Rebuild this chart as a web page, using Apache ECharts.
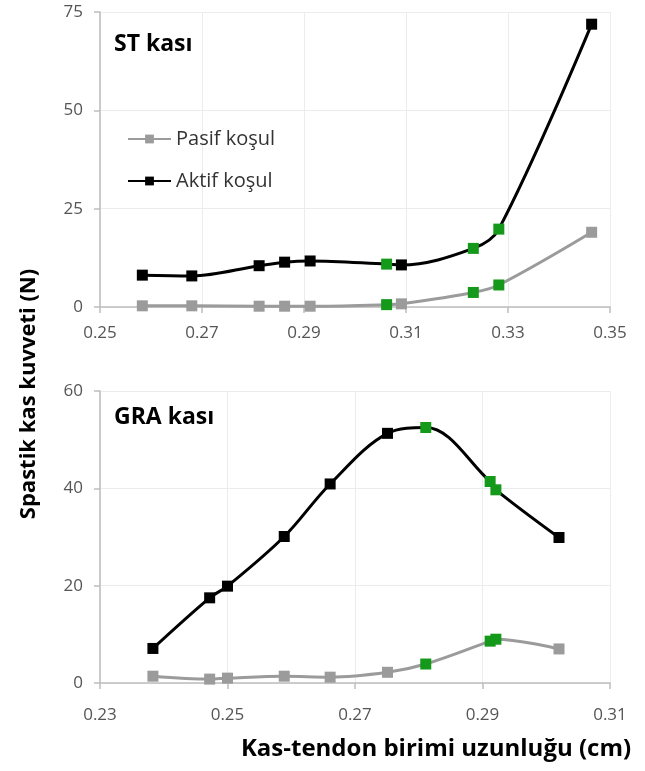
<!DOCTYPE html>
<html>
<head>
<meta charset="utf-8">
<script src="https://cdn.jsdelivr.net/npm/echarts@6/dist/echarts.min.js"></script>
<style>html,body{margin:0;padding:0;background:#fff;}#c{width:645px;height:771px;}</style>
</head>
<body>
<div id="c"></div>
<script>
// ST kası
const stX = [0.2583, 0.268, 0.2812, 0.2862, 0.2912, 0.3062, 0.3091, 0.3232, 0.3282, 0.3464];
const stPasif = [0.3, 0.3, 0.2, 0.2, 0.2, 0.6, 0.8, 3.7, 5.6, 19.0];
const stAktif = [8.1, 7.9, 10.5, 11.4, 11.7, 10.9, 10.7, 14.9, 19.8, 71.9];
const stGreen = [5, 7, 8];
const stXTicks = [0.25, 0.27, 0.29, 0.31, 0.33, 0.35];
const stYTicks = [0, 25, 50, 75];
// GRA kası
const graX = [0.2383, 0.2472, 0.2500, 0.2589, 0.2661, 0.2751, 0.2811, 0.2912, 0.2921, 0.3020];
const graPasif = [1.4, 0.8, 1.0, 1.4, 1.2, 2.2, 3.9, 8.6, 9.0, 7.0];
const graAktif = [7.1, 17.5, 19.9, 30.1, 40.9, 51.3, 52.5, 41.4, 39.7, 29.9];
const graGreen = [6, 7, 8];
const graXTicks = [0.23, 0.25, 0.27, 0.29, 0.31];
const graYTicks = [0, 20, 40, 60];

const seriesNames = ['Pasif koşul', 'Aktif koşul'];
const GREEN = '#14991a', GRAY = '#9b9b9b', BLACK = '#000000';
const FONT = 'Open Sans';

function pts(xs, ys, greens) {
  return xs.map((x, i) => greens.includes(i)
    ? { value: [x, ys[i]], itemStyle: { color: GREEN } }
    : [x, ys[i]]);
}
function xAxis(ticks, gi, margin) {
  return {
    type: 'value', gridIndex: gi, min: ticks[0], max: ticks[ticks.length - 1],
    interval: +(ticks[1] - ticks[0]).toFixed(4),
    axisLine: { lineStyle: { color: '#bdbdbd', width: 1.5 } },
    axisTick: { show: true, length: 6, lineStyle: { color: '#bdbdbd', width: 1.5 } },
    splitLine: { show: true, lineStyle: { color: '#ececec', width: 1 } },
    axisLabel: { margin: margin, fontFamily: FONT, fontSize: 17, color: '#555',
      formatter: v => v.toFixed(2) }
  };
}
function yAxis(ticks, gi) {
  return {
    type: 'value', gridIndex: gi, min: ticks[0], max: ticks[ticks.length - 1],
    interval: ticks[1] - ticks[0],
    axisLine: { show: true, lineStyle: { color: '#bdbdbd', width: 1.5 } },
    axisTick: { show: true, length: 6, lineStyle: { color: '#bdbdbd', width: 1.5 } },
    splitLine: { show: true, lineStyle: { color: '#ececec', width: 1 } },
    axisLabel: { margin: 17, fontFamily: FONT, fontSize: 17, color: '#555' }
  };
}
function line(name, xs, ys, greens, gi, color) {
  return {
    name: name, type: 'line', xAxisIndex: gi, yAxisIndex: gi,
    data: pts(xs, ys, greens), smooth: 0.35,
    symbol: 'rect', symbolSize: 11, showSymbol: true,
    lineStyle: { color: color, width: 3 },
    itemStyle: { color: color },
    emphasis: { disabled: true }, animation: false
  };
}

const chart = echarts.init(document.getElementById('c'), null, { renderer: 'canvas' });
chart.setOption({
  animation: false,
  backgroundColor: '#fff',
  grid: [
    { left: 100, top: 12, width: 510, height: 295 },
    { left: 100, top: 391, width: 510, height: 292 }
  ],
  xAxis: [xAxis(stXTicks, 0, 18), xAxis(graXTicks, 1, 24)],
  yAxis: [yAxis(stYTicks, 0), yAxis(graYTicks, 1)],
  legend: {
    orient: 'vertical', left: 127, top: 129, padding: 0, itemWidth: 43, itemHeight: 11, itemGap: 22,
    itemTextGap: 2,
    data: seriesNames,
    textStyle: { fontFamily: FONT, fontSize: 20, color: '#333' }
  },
  title: [
    { text: 'ST kası', left: 114, top: 33, padding: 0, textStyle: { fontFamily: FONT, fontWeight: 'bold', fontSize: 23, color: '#000' } },
    { text: 'GRA kası', left: 114, top: 406, padding: 0, textStyle: { fontFamily: FONT, fontWeight: 'bold', fontSize: 23, color: '#000' } }
  ],
  graphic: [
    { type: 'text', x: 29, y: 394, rotation: Math.PI / 2,
      style: { text: 'Spastik kas kuvveti (N)', fontFamily: FONT, fontWeight: 'bold', fontSize: 22,
        fill: '#000', align: 'center', verticalAlign: 'middle' } },
    { type: 'text', x: 436, y: 749,
      style: { text: 'Kas-tendon birimi uzunluğu (cm)', fontFamily: FONT, fontWeight: 'bold', fontSize: 24,
        fill: '#000', align: 'center', verticalAlign: 'middle' } }
  ],
  series: [
    line(seriesNames[0], stX, stPasif, stGreen, 0, GRAY),
    line(seriesNames[1], stX, stAktif, stGreen, 0, BLACK),
    line(seriesNames[0], graX, graPasif, graGreen, 1, GRAY),
    line(seriesNames[1], graX, graAktif, graGreen, 1, BLACK)
  ]
});
</script>
</body>
</html>
